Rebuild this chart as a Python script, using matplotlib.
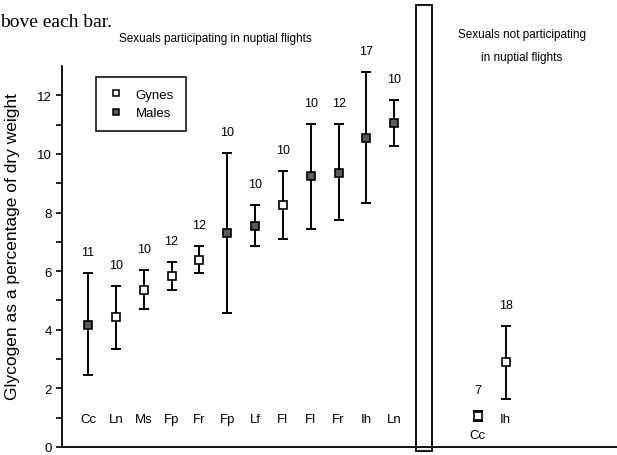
import numpy as np
import matplotlib
matplotlib.use('Agg')
import matplotlib.pyplot as plt
from matplotlib.lines import Line2D
from matplotlib.patches import Rectangle

plt.rcParams['font.family'] = ['Liberation Sans', 'DejaVu Sans']

# sexuals participating in nuptial flights
left_species = ['Cc', 'Ln', 'Ms', 'Fp', 'Fr', 'Fp', 'Lf', 'Fl', 'Fl', 'Fr', 'Ih', 'Ln']
left_sex = ['M', 'G', 'G', 'G', 'G', 'M', 'M', 'G', 'M', 'M', 'M', 'M']
left_mean = [4.17, 4.42, 5.34, 5.83, 6.38, 7.29, 7.53, 8.26, 9.25, 9.36, 10.55, 11.05]
left_upper = [5.94, 5.50, 6.04, 6.32, 6.86, 10.04, 8.27, 9.41, 11.03, 11.01, 12.80, 11.85]
left_lower = [2.46, 3.34, 4.72, 5.36, 5.93, 4.57, 6.86, 7.10, 7.44, 7.74, 8.34, 10.27]
left_n = [11, 10, 10, 12, 12, 10, 10, 10, 10, 12, 17, 10]

# sexuals not participating in nuptial flights
right_species = ['Cc', 'Ih']
right_sex = ['G', 'G']
right_mean = [1.06, 2.89]
right_upper = [1.22, 4.12]
right_lower = [0.90, 1.64]
right_n = [7, 18]


def draw_group(ax, xs, species, sex, mean, upper, lower, n):
    for x, sp, s, m, up, lo, cnt in zip(xs, species, sex, mean, upper, lower, n):
        ax.errorbar([x], [m], yerr=[[m - lo], [up - m]], fmt='none',
                    ecolor='black', elinewidth=1.4, capsize=3.5, capthick=1.4, zorder=2)
        if s == 'G':
            ax.plot([x], [m], 's', ms=6, mfc='white', mec='black', mew=1.2, zorder=3)
        else:
            ax.plot([x], [m], 's', ms=5.5, mfc='0.35', mec='black', mew=1.2, zorder=3)
        ax.annotate(str(cnt), (x, up), xytext=(0, 15), textcoords='offset points',
                    ha='center', va='center', fontsize=9)
        ax.text(x, min(0.95, lo - 0.5), sp, ha='center', va='center', fontsize=9.5)


fig = plt.figure(figsize=(6.17, 4.56), dpi=100)
ax = fig.add_axes([62 / 617, 8 / 456, 1 - 62 / 617, 381 / 456])

draw_group(ax, np.arange(1, len(left_species) + 1), left_species, left_sex,
           left_mean, left_upper, left_lower, left_n)
draw_group(ax, np.arange(15, 15 + len(right_species)), right_species, right_sex,
           right_mean, right_upper, right_lower, right_n)

ax.set_xlim(0.065, 20.0)
ax.set_ylim(0, 13)
ax.set_yticks(np.arange(0, 13, 2))
ax.set_yticks(np.arange(1, 13, 2), minor=True)
ax.set_xticks([])
ax.tick_params(axis='y', which='both', direction='out', length=4, width=1.2, labelsize=9.5)
ax.spines['top'].set_visible(False)
ax.spines['right'].set_visible(False)
ax.spines['left'].set_linewidth(1.3)
ax.spines['bottom'].set_linewidth(1.3)
ax.set_ylabel('Glycogen as a percentage of dry weight', fontsize=12.5)
ax.yaxis.set_label_coords(-0.076, 0.53)

# divider box between the two groups
ax.add_patch(Rectangle((12.79, -0.14), 0.58, 15.22, fill=False, edgecolor='black',
                       linewidth=1.3, clip_on=False))

fig.text(215 / 617, 1 - 39 / 456, 'Sexuals participating in nuptial flights',
         ha='center', va='center', fontsize=8.5)
fig.text(522 / 617, 1 - 35 / 456, 'Sexuals not participating',
         ha='center', va='center', fontsize=8.5)
fig.text(522 / 617, 1 - 58 / 456, 'in nuptial flights',
         ha='center', va='center', fontsize=8.5)
fig.text(0.0, 1 - 27 / 456, 'bove each bar.', ha='left', va='baseline',
         fontsize=14, family=['Liberation Serif', 'DejaVu Serif'])

handles = [Line2D([], [], ls='none', marker='s', ms=5, mfc='white', mec='black', mew=1.1),
           Line2D([], [], ls='none', marker='s', ms=5, mfc='0.35', mec='black', mew=1.1)]
leg = ax.legend(handles, ['Gynes', 'Males'], loc='upper left',
                bbox_to_anchor=(96 / 617, 1 - 78 / 456), bbox_transform=fig.transFigure,
                borderaxespad=0, fancybox=False, edgecolor='black', fontsize=9.5,
                handlelength=1.2, handletextpad=0.9, borderpad=0.9, labelspacing=0.45,
                framealpha=1)
leg.get_frame().set_linewidth(1.1)

plt.savefig('out.png', dpi=100)
